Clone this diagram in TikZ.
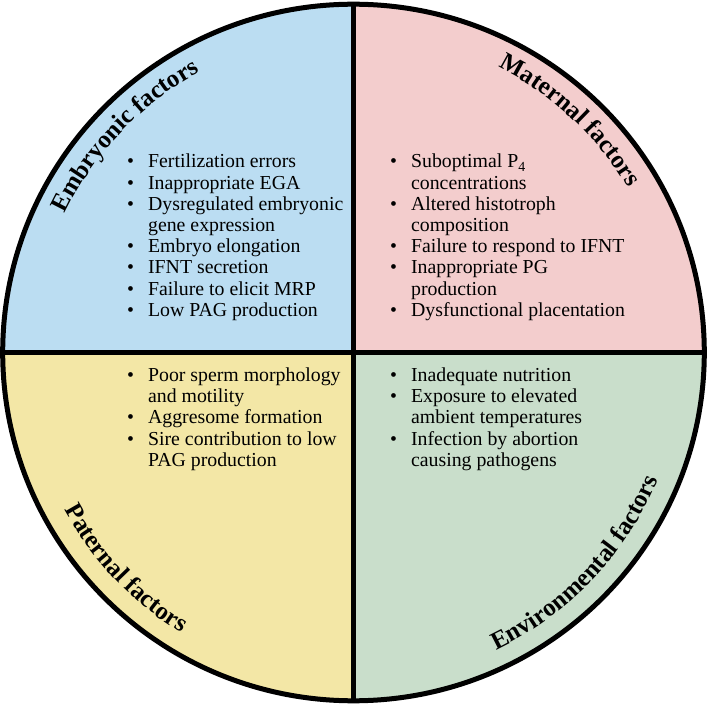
\documentclass[tikz,border=0pt]{standalone}
\usepackage{fontspec}
\setmainfont{Liberation Serif}
\usetikzlibrary{decorations.text}

\definecolor{embBlue}{RGB}{187,221,242}
\definecolor{matPink}{RGB}{243,205,205}
\definecolor{patYellow}{RGB}{243,231,166}
\definecolor{envGreen}{RGB}{201,222,203}

\tikzset{
  factorlist/.style={inner sep=0pt, anchor=base west,
    font=\fontsize{19.8}{21.2}\selectfont},
  titlearc/.style={decorate, decoration={text along path, text align=center,
    text={#1}}}
}
\newcommand{\titlefont}{\fontsize{25}{25}\selectfont\bfseries}

\begin{document}
\begin{tikzpicture}[x=1pt, y=1pt]

  % Fix the page size
  \useasboundingbox (-353.5,-353.5) rectangle (355.5,352.5);

  % Define the center and the radii of the disc
  \coordinate (O) at (0,0);
  \def\RX{350.8}
  \def\RY{348.3}

  % Fill the four quadrants
  \begin{scope}
    \clip (O) ellipse [x radius=\RX, y radius=\RY];
    \fill[embBlue] (O) rectangle (-360,360);
    \fill[matPink] (O) rectangle (360,360);
    \fill[patYellow] (O) rectangle (-360,-360);
    \fill[envGreen] (O) rectangle (360,-360);
  \end{scope}

  % Draw the dividing lines and the outline
  \coordinate (N) at (0,\RY);
  \coordinate (S) at (0,-\RY);
  \coordinate (W) at (-\RX,0);
  \coordinate (E) at (\RX,0);
  \draw[line width=5.5pt] (N) -- (S);
  \draw[line width=5.5pt] (W) -- (E);
  \draw[line width=5pt] (O) ellipse [x radius=\RX, y radius=\RY];

  % Titles along the rim
  % top ones read clockwise, bottom ones counter-clockwise
  \path[titlearc={|\titlefont|Embryonic factors}]
    (162:320) arc[start angle=162, end angle=111, radius=320];
  \path[titlearc={|\titlefont|Maternal factors}]
    (72:320) arc[start angle=72, end angle=22, radius=320];
  \path[titlearc={|\titlefont|Paternal factors}]
    (198:329) arc[start angle=198, end angle=249, radius=329];
  \path[titlearc={|\titlefont|Environmental factors}]
    (286:330) arc[start angle=286, end angle=347, radius=330];

  % Bullet lists
  \node[factorlist] (embList) at (-226.5,184.5) {%
    \begin{tabular}[t]{@{}l@{\hspace{14pt}}l@{}}
      \textbullet & Fertilization errors\\
      \textbullet & Inappropriate EGA\\
      \textbullet & Dysregulated embryonic\\
                  & gene expression\\
      \textbullet & Embryo elongation\\
      \textbullet & IFNT secretion\\
      \textbullet & Failure to elicit MRP\\
      \textbullet & Low PAG production
    \end{tabular}};

  \node[factorlist] (matList) at (36.5,184.5) {%
    \begin{tabular}[t]{@{}l@{\hspace{14pt}}l@{}}
      \textbullet & Suboptimal P\textsubscript{4}\\
                  & concentrations\\
      \textbullet & Altered histotroph\\
                  & composition\\
      \textbullet & Failure to respond to IFNT\\
      \textbullet & Inappropriate PG\\
                  & production\\
      \textbullet & Dysfunctional placentation
    \end{tabular}};

  \node[factorlist] (patList) at (-226.5,-29) {%
    \begin{tabular}[t]{@{}l@{\hspace{14pt}}l@{}}
      \textbullet & Poor sperm morphology\\
                  & and motility\\
      \textbullet & Aggresome formation\\
      \textbullet & Sire contribution to low\\
                  & PAG production
    \end{tabular}};

  \node[factorlist] (envList) at (36.5,-29) {%
    \begin{tabular}[t]{@{}l@{\hspace{14pt}}l@{}}
      \textbullet & Inadequate nutrition\\
      \textbullet & Exposure to elevated\\
                  & ambient temperatures\\
      \textbullet & Infection by abortion\\
                  & causing pathogens
    \end{tabular}};

\end{tikzpicture}
\end{document}
